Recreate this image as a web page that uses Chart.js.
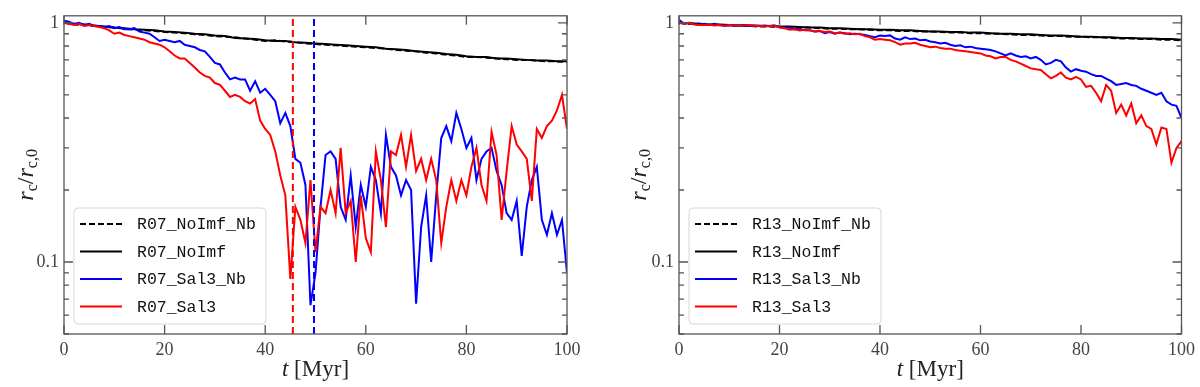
<!DOCTYPE html>
<html>
<head>
<meta charset="utf-8">
<script src="https://cdn.jsdelivr.net/npm/chart.js@4.4.1/dist/chart.umd.min.js"></script>
<style>
  html, body { margin: 0; padding: 0; background: #fff; }
  #wrap { position: relative; width: 1200px; height: 387px; }
  .panel { position: absolute; top: 0; width: 600px; height: 387px; }
</style>
</head>
<body>
<div id="wrap">
  <div class="panel" style="left:0"><canvas id="left"></canvas></div>
  <div class="panel" style="left:600px"><canvas id="right"></canvas></div>
</div>
<script>
// time grids (Myr)
var tFine = [];
for (var i = 0; i <= 100; i++) tFine.push(i);
var tCoarse = [];
for (var j = 0; j <= 100; j += 2) tCoarse.push(j);

// axis ticks
var xTicks = [0, 20, 40, 60, 80, 100];
var yTicks = [0.05, 0.06, 0.07, 0.08, 0.09, 0.1, 0.2, 0.3, 0.4, 0.5, 0.6, 0.7, 0.8, 0.9, 1];
var yMajor = [0.1, 1];

// R07 panel
var r07NoImfNb = [1.0, 0.985, 0.98, 0.97, 0.96, 0.955, 0.945, 0.935, 0.93, 0.925,
  0.915, 0.91, 0.905, 0.895, 0.89, 0.88, 0.875, 0.87, 0.86, 0.85,
  0.84, 0.845, 0.835, 0.83, 0.82, 0.815, 0.81, 0.805, 0.8, 0.795,
  0.79, 0.785, 0.78, 0.77, 0.765, 0.76, 0.75, 0.745, 0.735, 0.73,
  0.72, 0.72, 0.715, 0.71, 0.705, 0.7, 0.7, 0.695, 0.69, 0.69, 0.685];
var r07NoImf = [1.0, 0.99, 0.985, 0.975, 0.965, 0.955, 0.95, 0.94, 0.935, 0.93,
  0.92, 0.915, 0.91, 0.9, 0.895, 0.885, 0.88, 0.865, 0.86, 0.855,
  0.845, 0.84, 0.84, 0.83, 0.825, 0.82, 0.815, 0.81, 0.805, 0.8,
  0.795, 0.79, 0.78, 0.775, 0.77, 0.76, 0.755, 0.75, 0.74, 0.735,
  0.725, 0.72, 0.72, 0.71, 0.71, 0.705, 0.7, 0.695, 0.695, 0.69, 0.69];
var r07Sal3Nb = [1.02, 1.01, 0.99, 1.0, 0.98, 0.99, 0.97, 0.97, 0.96, 0.97,
  0.95, 0.96, 0.94, 0.94, 0.95, 0.92, 0.91, 0.9, 0.87, 0.84,
  0.85, 0.84, 0.83, 0.84, 0.81, 0.8, 0.79, 0.77, 0.76, 0.72,
  0.68, 0.67, 0.62, 0.58, 0.59, 0.58, 0.58, 0.52, 0.57, 0.51,
  0.53, 0.5, 0.47, 0.38, 0.42, 0.37, 0.27, 0.26, 0.21, 0.066,
  0.09, 0.17, 0.28, 0.29, 0.27, 0.17, 0.15, 0.23, 0.14, 0.21,
  0.17, 0.25, 0.22, 0.16, 0.34, 0.25, 0.23, 0.19, 0.22, 0.2,
  0.067, 0.14, 0.19, 0.1, 0.19, 0.33, 0.37, 0.32, 0.42, 0.36,
  0.3, 0.33, 0.22, 0.27, 0.29, 0.3, 0.24, 0.21, 0.16, 0.15,
  0.18, 0.106, 0.17, 0.22, 0.25, 0.15, 0.13, 0.16, 0.13, 0.15, 0.09];
var r07Sal3 = [1.0, 0.99, 0.98, 0.99, 0.97, 0.98, 0.97, 0.96, 0.95, 0.93,
  0.9, 0.91, 0.89, 0.88, 0.87, 0.86, 0.85, 0.83, 0.82, 0.81,
  0.79, 0.76, 0.73, 0.71, 0.71, 0.68, 0.65, 0.62, 0.6, 0.59,
  0.56, 0.55, 0.52, 0.49, 0.5, 0.49, 0.47, 0.46, 0.48, 0.39,
  0.36, 0.34, 0.29, 0.23, 0.19, 0.085, 0.17, 0.15, 0.12, 0.22,
  0.11, 0.17, 0.16, 0.2, 0.16, 0.3, 0.16, 0.18, 0.1, 0.19,
  0.126, 0.11, 0.29, 0.22, 0.14, 0.29, 0.28, 0.34, 0.25, 0.34,
  0.24, 0.27, 0.22, 0.27, 0.22, 0.12, 0.17, 0.22, 0.18, 0.22,
  0.19, 0.25, 0.3, 0.21, 0.18, 0.35, 0.28, 0.15, 0.24, 0.37,
  0.31, 0.29, 0.27, 0.18, 0.36, 0.33, 0.37, 0.39, 0.43, 0.5, 0.36];
var r07Markers = [45.5, 49.7];

// R13 panel
var r13NoImfNb = [1.0, 0.99, 0.99, 0.98, 0.98, 0.975, 0.97, 0.97, 0.965, 0.965,
  0.96, 0.96, 0.955, 0.955, 0.95, 0.945, 0.945, 0.94, 0.94, 0.935,
  0.93, 0.93, 0.925, 0.925, 0.92, 0.92, 0.915, 0.91, 0.91, 0.905,
  0.905, 0.9, 0.9, 0.895, 0.89, 0.89, 0.885, 0.88, 0.88, 0.875,
  0.875, 0.87, 0.87, 0.865, 0.86, 0.86, 0.855, 0.855, 0.85, 0.85, 0.845];
var r13NoImf = [1.0, 0.995, 0.99, 0.985, 0.985, 0.98, 0.975, 0.975, 0.97, 0.97,
  0.965, 0.965, 0.96, 0.955, 0.955, 0.95, 0.95, 0.945, 0.94, 0.94,
  0.935, 0.935, 0.93, 0.93, 0.925, 0.92, 0.92, 0.915, 0.915, 0.91,
  0.91, 0.905, 0.9, 0.9, 0.895, 0.895, 0.89, 0.885, 0.885, 0.88,
  0.875, 0.875, 0.87, 0.87, 0.865, 0.865, 0.86, 0.86, 0.855, 0.855, 0.85];
var r13Sal3Nb = [1.03, 0.99, 1.0, 0.99, 0.98, 0.99, 0.98, 0.99, 0.98, 0.975,
  0.98, 0.97, 0.975, 0.98, 0.97, 0.975, 0.97, 0.975, 0.97, 0.975,
  0.96, 0.95, 0.955, 0.94, 0.945, 0.93, 0.93, 0.92, 0.925, 0.905,
  0.915, 0.9, 0.91, 0.905, 0.895, 0.9, 0.895, 0.89, 0.88, 0.87,
  0.885, 0.88, 0.886, 0.86, 0.85, 0.87, 0.855, 0.86, 0.845, 0.85,
  0.835, 0.83, 0.82, 0.825, 0.81, 0.8, 0.805, 0.79, 0.795, 0.785,
  0.78, 0.775, 0.77, 0.76, 0.745, 0.73, 0.745, 0.73, 0.72, 0.725,
  0.71, 0.72, 0.7, 0.67, 0.68, 0.7, 0.69, 0.65, 0.625, 0.64,
  0.63, 0.625, 0.61, 0.6, 0.6, 0.585, 0.57, 0.55, 0.555, 0.56,
  0.55, 0.545, 0.53, 0.52, 0.51, 0.5, 0.51, 0.47, 0.455, 0.45, 0.4];
var r13Sal3 = [1.0, 0.99, 1.0, 0.985, 0.98, 0.98, 0.985, 0.975, 0.98, 0.97,
  0.98, 0.975, 0.97, 0.975, 0.98, 0.97, 0.975, 0.965, 0.97, 0.975,
  0.955, 0.95, 0.935, 0.94, 0.93, 0.935, 0.93, 0.92, 0.925, 0.915,
  0.92, 0.905, 0.91, 0.9, 0.905, 0.895, 0.9, 0.88, 0.87, 0.85,
  0.855, 0.85, 0.845, 0.83, 0.81, 0.82, 0.82, 0.825, 0.81, 0.8,
  0.79, 0.795, 0.785, 0.78, 0.78, 0.77, 0.765, 0.76, 0.755, 0.75,
  0.745, 0.73, 0.725, 0.71, 0.72, 0.72, 0.7, 0.69, 0.675, 0.66,
  0.645, 0.64, 0.635, 0.61, 0.586, 0.6, 0.62, 0.59, 0.58, 0.595,
  0.58, 0.54, 0.545, 0.51, 0.47, 0.55, 0.52, 0.42, 0.455, 0.41,
  0.46, 0.38, 0.41, 0.37, 0.36, 0.31, 0.365, 0.36, 0.26, 0.3, 0.32];

var serif = "'Liberation Serif', 'DejaVu Serif', serif";
var mono = "'Liberation Mono', 'DejaVu Sans Mono', monospace";

function pts(ts, vs) {
  return vs.map(function (v, k) { return { x: ts[k], y: v }; });
}

function series(label, ts, vs, color, dash, order) {
  return {
    label: label, data: pts(ts, vs), borderColor: color, borderWidth: 2,
    borderDash: dash, pointRadius: 0, tension: 0, fill: false, order: order
  };
}

function marker(t, color) {
  return {
    label: '', inLegend: false, data: [{ x: t, y: 0.05 }, { x: t, y: 1.07 }],
    borderColor: color, borderWidth: 2, borderDash: [7, 4], pointRadius: 0, order: 0
  };
}

var decor = {
  id: 'decor',
  afterDatasetsDraw: function (chart, args, o) {
    var ctx = chart.ctx, a = chart.chartArea, x = chart.scales.x, y = chart.scales.y;
    ctx.save();
    // frame and inward ticks
    ctx.strokeStyle = '#555';
    ctx.lineWidth = 1.3;
    ctx.strokeRect(a.left, a.top, a.right - a.left, a.bottom - a.top);
    ctx.beginPath();
    xTicks.forEach(function (v) {
      var px = x.getPixelForValue(v);
      ctx.moveTo(px, a.bottom); ctx.lineTo(px, a.bottom - 9);
      ctx.moveTo(px, a.top); ctx.lineTo(px, a.top + 9);
    });
    yTicks.forEach(function (v) {
      var py = y.getPixelForValue(v);
      var len = yMajor.indexOf(v) >= 0 ? 9 : 5;
      ctx.moveTo(a.left, py); ctx.lineTo(a.left + len, py);
      ctx.moveTo(a.right, py); ctx.lineTo(a.right - len, py);
    });
    ctx.stroke();

    // legend
    var items = chart.data.datasets.filter(function (d) { return d.inLegend !== false; });
    var bx = a.left + 10, by = 208, bw = 192, bh = 116;
    ctx.fillStyle = 'rgba(255,255,255,0.85)';
    ctx.strokeStyle = '#d6d6d6';
    ctx.lineWidth = 1;
    ctx.beginPath();
    ctx.roundRect(bx, by, bw, bh, 4);
    ctx.fill();
    ctx.stroke();
    ctx.font = '16.5px ' + mono;
    ctx.textBaseline = 'middle';
    ctx.textAlign = 'left';
    items.forEach(function (d, k) {
      var ry = 224 + k * 27.5;
      ctx.strokeStyle = d.borderColor;
      ctx.lineWidth = 2;
      ctx.setLineDash(d.borderDash || []);
      ctx.beginPath();
      ctx.moveTo(bx + 6, ry); ctx.lineTo(bx + 48, ry);
      ctx.stroke();
      ctx.setLineDash([]);
      ctx.fillStyle = '#111';
      ctx.fillText(d.label, bx + 63, ry + 1);
    });

    // x title: t [Myr]
    ctx.fillStyle = '#222';
    ctx.textBaseline = 'alphabetic';
    var p1 = 't', p2 = ' [Myr]';
    ctx.font = 'italic 23px ' + serif;
    var w1 = ctx.measureText(p1).width;
    ctx.font = '23px ' + serif;
    var w2 = ctx.measureText(p2).width;
    var cx = (a.left + a.right) / 2, sx = cx - (w1 + w2) / 2;
    ctx.font = 'italic 23px ' + serif;
    ctx.fillText(p1, sx, 376);
    ctx.font = '23px ' + serif;
    ctx.fillText(p2, sx + w1, 376);

    // y title: r_c / r_c,0
    var parts = [
      { t: 'r', f: 'italic 24px ' + serif, dy: 0 },
      { t: 'c', f: '16px ' + serif, dy: 4 },
      { t: '/', f: '24px ' + serif, dy: 0 },
      { t: 'r', f: 'italic 24px ' + serif, dy: 0 },
      { t: 'c,0', f: '16px ' + serif, dy: 4 }
    ];
    var tw = 0;
    parts.forEach(function (p) { ctx.font = p.f; p.w = ctx.measureText(p.t).width; tw += p.w; });
    ctx.translate(o.titleX, (a.top + a.bottom) / 2);
    ctx.rotate(-Math.PI / 2);
    var px0 = -tw / 2;
    parts.forEach(function (p) {
      ctx.font = p.f;
      ctx.fillText(p.t, px0, 6 + p.dy);
      px0 += p.w;
    });
    ctx.restore();
  }
};

function makeChart(id, sets, yWidth, rightPad, titleX) {
  return new Chart(document.getElementById(id), {
    type: 'line',
    data: { datasets: sets },
    options: {
      responsive: true,
      maintainAspectRatio: false,
      animation: false,
      devicePixelRatio: 1,
      layout: { padding: { left: 0, right: rightPad, top: 12, bottom: 0 } },
      plugins: { legend: { display: false }, tooltip: { enabled: false }, decor: { titleX: titleX } },
      scales: {
        x: {
          type: 'linear', min: 0, max: 100,
          afterFit: function (s) { s.height = 53; },
          afterBuildTicks: function (s) { s.ticks = xTicks.map(function (v) { return { value: v }; }); },
          grid: { display: false, drawTicks: false, tickLength: 0 }, border: { display: false },
          ticks: { color: '#444', padding: 5, maxRotation: 0, autoSkip: false, font: { family: serif, size: 18 } }
        },
        y: {
          type: 'logarithmic', min: 0.05, max: 1.07,
          afterFit: function (s) { s.width = yWidth; },
          afterBuildTicks: function (s) { s.ticks = yTicks.map(function (v) { return { value: v }; }); },
          grid: { display: false, drawTicks: false, tickLength: 0 }, border: { display: false },
          ticks: {
            color: '#444', padding: 5, autoSkip: false, font: { family: serif, size: 18 },
            callback: function (v) { return v === 1 ? '1' : (v === 0.1 ? '0.1' : ''); }
          }
        }
      }
    },
    plugins: [decor]
  });
}

makeChart('left', [
  series('R07_NoImf_Nb', tCoarse, r07NoImfNb, '#000000', [6, 3], 4),
  series('R07_NoImf', tCoarse, r07NoImf, '#000000', [], 3),
  series('R07_Sal3_Nb', tFine, r07Sal3Nb, '#0000ff', [], 2),
  series('R07_Sal3', tFine, r07Sal3, '#ff0000', [], 1),
  marker(r07Markers[0], '#ff0000'),
  marker(r07Markers[1], '#0000ff')
], 64, 33, 27);

makeChart('right', [
  series('R13_NoImf_Nb', tCoarse, r13NoImfNb, '#000000', [6, 3], 4),
  series('R13_NoImf', tCoarse, r13NoImf, '#000000', [], 3),
  series('R13_Sal3_Nb', tFine, r13Sal3Nb, '#0000ff', [], 2),
  series('R13_Sal3', tFine, r13Sal3, '#ff0000', [], 1)
], 79, 17, 40);
</script>
</body>
</html>
